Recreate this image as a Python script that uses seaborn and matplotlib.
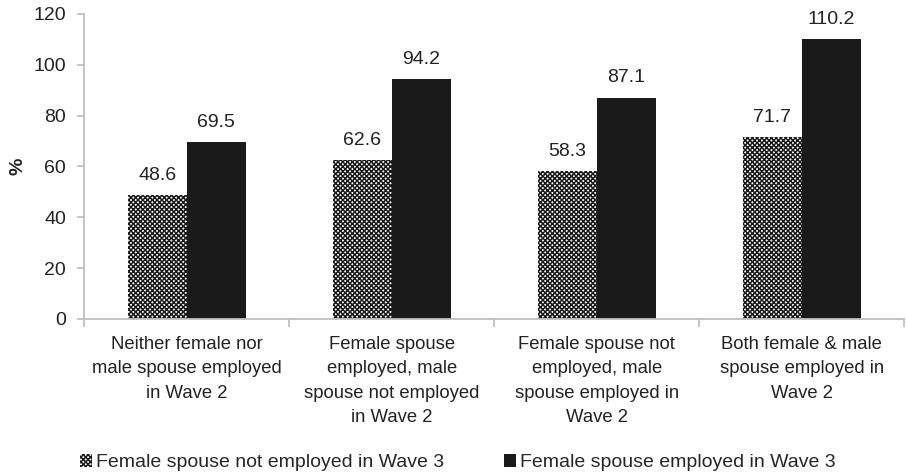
import pandas as pd
import matplotlib.pyplot as plt
import seaborn as sns
from matplotlib.patches import Patch

sns.set_theme(style="white")
plt.rcParams['font.family'] = ['Liberation Sans', 'DejaVu Sans']
plt.rcParams['hatch.linewidth'] = 1.1

categories = [
    "Neither female nor\nmale spouse employed\nin Wave 2",
    "Female spouse\nemployed, male\nspouse not employed\nin Wave 2",
    "Female spouse not\nemployed, male\nspouse employed in\nWave 2",
    "Both female & male\nspouse employed in\nWave 2",
]
series_names = ["Female spouse not employed in Wave 3",
                "Female spouse employed in Wave 3"]
not_employed = [48.6, 62.6, 58.3, 71.7]
employed = [69.5, 94.2, 87.1, 110.2]

df = pd.DataFrame({
    'Category': categories * 2,
    'Series': [series_names[0]] * 4 + [series_names[1]] * 4,
    'Value': not_employed + employed,
})

fig = plt.figure(figsize=(9.06, 4.73), dpi=100)
ax = fig.add_axes([0.093, 0.3256, 0.905, 0.645])

sns.barplot(data=df, x='Category', y='Value', hue='Series',
            palette=['white', '#1a1a1a'], width=0.575, gap=0,
            edgecolor='#1a1a1a', linewidth=0, ax=ax, legend=False)

# checker-like pattern for the first series
for bar in ax.containers[0]:
    bar.set_hatch('xxxxxxx')
    bar.set_edgecolor('#1a1a1a')
    bar.set_linewidth(0)

for cont in ax.containers:
    for bar in cont:
        h = bar.get_height()
        ax.annotate(f'{h:.1f}', (bar.get_x() + bar.get_width() / 2, h),
                    xytext=(0, 8), textcoords='offset points',
                    ha='center', va='bottom', fontsize=14, color='#222222')

ax.set_ylim(0, 120)
ax.set_yticks(range(0, 121, 20))
ax.set_xlim(-0.5, 3.5)
ax.set_xlabel('')
ax.set_ylabel('%', fontsize=14, fontweight='bold', color='#222222',
              labelpad=5)

for side in ['top', 'right']:
    ax.spines[side].set_visible(False)
for side in ['left', 'bottom']:
    ax.spines[side].set_color('#bfbfbf')
    ax.spines[side].set_linewidth(1.3)

ax.tick_params(axis='y', which='major', left=True, length=5, width=1.3,
               color='#bfbfbf', labelsize=14, labelcolor='#222222', pad=8)
ax.tick_params(axis='x', which='major', length=0, labelsize=13.3,
               labelcolor='#222222', pad=12)
ax.set_xticks([-0.5, 0.5, 1.5, 2.5, 3.5], minor=True)
ax.tick_params(axis='x', which='minor', bottom=True, length=6, width=1.3,
               color='#bfbfbf')
for lbl in ax.get_xticklabels():
    lbl.set_linespacing(1.58)

handles = [Patch(facecolor='white', edgecolor='#1a1a1a', hatch='xxxxxxx',
                 linewidth=0),
           Patch(facecolor='#1a1a1a', edgecolor='#1a1a1a', linewidth=0)]
fig.legend(handles, series_names, loc='center', bbox_to_anchor=(0.505, 0.022),
           ncol=2, frameon=False, fontsize=14, handlelength=0.62,
           handleheight=0.62, handletextpad=0.2, columnspacing=3.1)

fig.savefig('out.png', dpi=100)
